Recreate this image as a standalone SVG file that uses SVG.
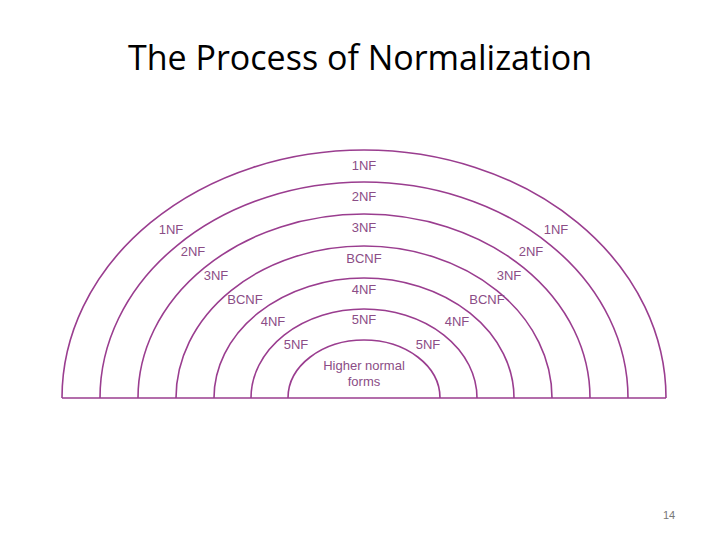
<svg xmlns="http://www.w3.org/2000/svg" width="720" height="540" viewBox="0 0 720 540">
<style>
.a{fill:none;stroke:#9a3d8f;stroke-width:1.6}
.l{font-family:"Liberation Sans",Arial,sans-serif;font-size:13px;fill:#8b4d86;text-anchor:middle}
</style>
<rect width="720" height="540" fill="#fff"/>
<text x="360" y="70" font-family="'Open Sans','Liberation Sans',sans-serif" font-size="34" text-anchor="middle" fill="#000">The Process of Normalization</text>
<g id="connectors">
<path class="a" d="M62 398 A302 248 0 0 1 666 398"/>
<path class="a" d="M100 398 A264 216 0 0 1 628 398"/>
<path class="a" d="M138 398 A226 184 0 0 1 590 398"/>
<path class="a" d="M176 398 A188 152 0 0 1 552 398"/>
<path class="a" d="M214 398 A150 120 0 0 1 514 398"/>
<path class="a" d="M251 398 A113 89 0 0 1 477 398"/>
<path class="a" d="M288 398 A76 58 0 0 1 440 398"/>
<line class="a" x1="62" y1="398" x2="666" y2="398"/>
</g>
<g id="n1"><text class="l" x="364" y="170">1NF</text><text class="l" x="171" y="234">1NF</text><text class="l" x="556" y="234">1NF</text></g>
<g id="n2"><text class="l" x="364" y="201">2NF</text><text class="l" x="193" y="256">2NF</text><text class="l" x="531" y="256">2NF</text></g>
<g id="n3"><text class="l" x="364" y="232">3NF</text><text class="l" x="216" y="280">3NF</text><text class="l" x="509" y="280">3NF</text></g>
<g id="nb"><text class="l" x="364" y="263">BCNF</text><text class="l" x="245" y="304">BCNF</text><text class="l" x="487" y="304">BCNF</text></g>
<g id="n4"><text class="l" x="364" y="294">4NF</text><text class="l" x="273" y="326">4NF</text><text class="l" x="457" y="326">4NF</text></g>
<g id="n5"><text class="l" x="364" y="324">5NF</text><text class="l" x="296" y="349">5NF</text><text class="l" x="428" y="349">5NF</text></g>
<g id="nh"><text class="l" x="364" y="370">Higher normal</text><text class="l" x="364" y="386">forms</text></g>
<text x="669" y="519" font-family="'Liberation Sans',sans-serif" font-size="11" fill="#777" text-anchor="middle">14</text>
</svg>
